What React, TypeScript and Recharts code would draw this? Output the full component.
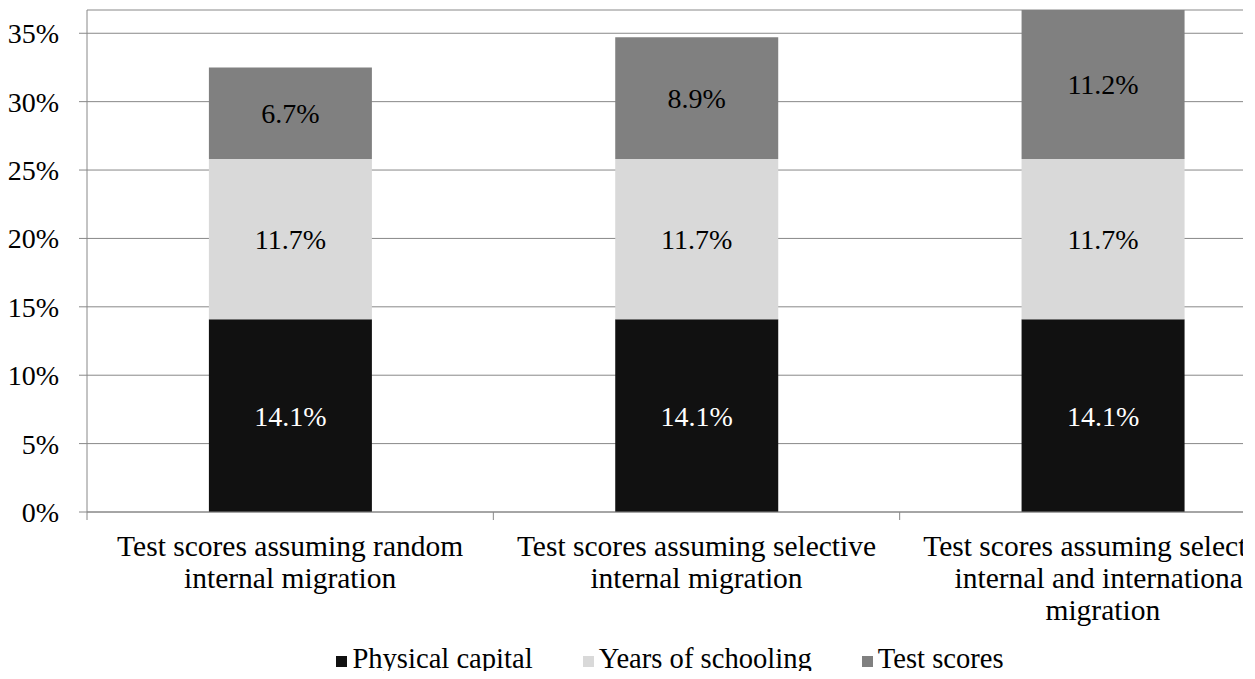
import React from 'react';
import { BarChart, Bar, XAxis, YAxis, CartesianGrid, Legend, LabelList } from 'recharts';

const categories = [
  'Test scores assuming random internal migration',
  'Test scores assuming selective internal migration',
  'Test scores assuming selective internal and international migration',
];
const categoryLines = [
  ['Test scores assuming random', 'internal migration'],
  ['Test scores assuming selective', 'internal migration'],
  ['Test scores assuming selective', 'internal and international', 'migration'],
];
const physicalCapital = [14.1, 14.1, 14.1];
const yearsOfSchooling = [11.7, 11.7, 11.7];
const testScores = [6.7, 8.9, 11.2];
const yTicks = [0, 5, 10, 15, 20, 25, 30, 35];

const seriesInfo = [
  { key: 'physical', name: 'Physical capital', color: '#111111', text: '#ffffff' },
  { key: 'schooling', name: 'Years of schooling', color: '#d9d9d9', text: '#000000' },
  { key: 'tests', name: 'Test scores', color: '#808080', text: '#000000' },
];

const chartData = categories.map((c, i) => ({
  name: c,
  physical: physicalCapital[i],
  schooling: yearsOfSchooling[i],
  tests: testScores[i],
}));

const FONT = '"Liberation Serif", "Times New Roman", serif';
const W = 1330;
const H = 679;
const MARGIN = { top: 10, right: 24, bottom: 0, left: 0 };
const Y_WIDTH = 87;
const HALF_BAND = (W - MARGIN.left - MARGIN.right - Y_WIDTH) / categories.length / 2;
const GRID = '#888888';

const XTick = (props: any) => {
  const { x, y, payload, index } = props;
  const lines = categoryLines[index] || [payload.value];
  return (
    <g>
      <line x1={x - HALF_BAND} x2={x - HALF_BAND} y1={y} y2={y + 8} stroke={GRID} />
      {index === categories.length - 1 && (
        <line x1={x + HALF_BAND} x2={x + HALF_BAND} y1={y} y2={y + 8} stroke={GRID} />
      )}
      <text x={x} y={y + 44} textAnchor="middle" fontSize={29.5} fontFamily={FONT} fill="#000">
        {lines.map((l: string, i: number) => (
          <tspan key={i} x={x} dy={i === 0 ? 0 : 32}>{l}</tspan>
        ))}
      </text>
    </g>
  );
};

const LegendContent = () => (
  <div style={{ display: 'flex', justifyContent: 'center', alignItems: 'center', height: 40, paddingLeft: 10, fontFamily: FONT, fontSize: 28.6, color: '#000' }}>
    {seriesInfo.map((s, i) => (
      <div key={s.key} style={{ display: 'flex', alignItems: 'center', marginLeft: i === 0 ? 0 : 50 }}>
        <div style={{ width: 11, height: 11, background: s.color, marginRight: 5, marginTop: 4 }} />
        <span>{s.name}</span>
      </div>
    ))}
  </div>
);

const pct = (v: any) => `${Number(v).toFixed(1)}%`;

const App: React.FC = () => {
  return (
    <div style={{ margin: -8, width: 1243, height: H, overflow: 'hidden', background: '#fff' }}>
      <BarChart width={W} height={H} data={chartData} margin={MARGIN} barCategoryGap="30%">
        <CartesianGrid vertical={false} stroke={GRID} />
        <XAxis
          dataKey="name"
          axisLine={{ stroke: GRID }}
          tickLine={false}
          tickSize={0}
          tickMargin={0}
          interval={0}
          height={127}
          tick={<XTick />}
        />
        <YAxis
          width={Y_WIDTH}
          domain={[0, 36.7]}
          allowDataOverflow
          ticks={yTicks}
          tickFormatter={(v) => `${v}%`}
          axisLine={{ stroke: GRID }}
          tickLine={{ stroke: GRID }}
          tickSize={8}
          tickMargin={20}
          tick={{ fill: '#000', fontSize: 28, fontFamily: FONT }}
        />
        <Legend
          verticalAlign="bottom"
          height={40}
          wrapperStyle={{ left: 0, width: W }}
          content={<LegendContent />}
        />
        {seriesInfo.map((s) => (
          <Bar key={s.key} dataKey={s.key} name={s.name} stackId="a" fill={s.color} isAnimationActive={false}>
            <LabelList dataKey={s.key} position="center" formatter={pct} fill={s.text} fontSize={28} fontFamily={FONT} />
          </Bar>
        ))}
      </BarChart>
    </div>
  );
};

export default App;
